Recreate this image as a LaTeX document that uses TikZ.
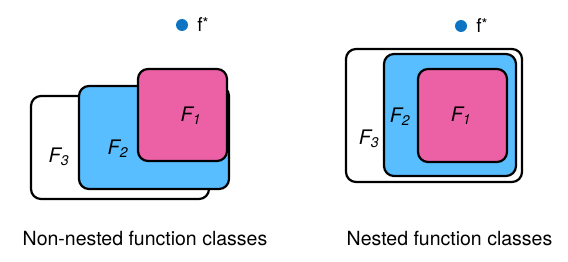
\documentclass[tikz,border=0pt]{standalone}
\usepackage{fontspec}
\setmainfont{TeX Gyre Heros}
\usepackage{tikz}
\usetikzlibrary{positioning}
\definecolor{setblue}{RGB}{89,190,255}
\definecolor{setpink}{RGB}{236,96,166}
\definecolor{dotblue}{RGB}{12,116,194}
\newcommand{\optf}{f\raisebox{0.3ex}{\fontsize{15}{15}\selectfont *}}
\tikzset{
  setbox/.style={rectangle, draw=black, line width=2.2pt, rounded corners=10pt,
    inner sep=0pt},
  setlabel/.style={font=\fontsize{20}{23}\selectfont\itshape, inner sep=0pt},
  caption/.style={font=\fontsize{19.5}{23}\selectfont, inner sep=0pt, anchor=base},
  optdot/.style={circle, fill=dotblue, minimum size=12pt, inner sep=0pt},
  optlabel/.style={font=\fontsize{19}{22}\selectfont, inner sep=0pt, anchor=west}
}
\begin{document}
\begin{tikzpicture}[x=1pt, y=-1pt]
  \useasboundingbox (0,0) rectangle (568,262);
  % non-nested classes
  \node[setbox, fill=white, minimum width=178pt, minimum height=103pt] (lthree) at (120,147.5) {};
  \node[setbox, fill=setblue, minimum width=150pt, minimum height=103pt] (ltwo) at (154,137.5) {};
  \node[setbox, fill=setpink, minimum width=89pt, minimum height=92pt] (lone) at (182.5,115) {};
  \node[setlabel] (lthreetxt) at (59,157) {F\textsubscript{3}};
  \node[setlabel] (ltwotxt) at (118,149) {F\textsubscript{2}};
  \node[setlabel] (lonetxt) at (191,116) {F\textsubscript{1}};
  \node[optdot] (lstar) at (182,25) {};
  \node[optlabel, right=9pt of lstar] (lstartxt) {\optf};
  \node[caption] (lcap) at (145,245) {Non-nested function classes};

  % nested classes
  \node[setbox, fill=white, minimum width=176pt, minimum height=133pt] (rthree) at (434,115.5) {};
  \node[setbox, fill=setblue, minimum width=132pt, minimum height=122pt] (rtwo) at (450,115) {};
  \node[setbox, fill=setpink, minimum width=89pt, minimum height=93pt] (rone) at (462.5,115.5) {};
  \node[setlabel] (rthreetxt) at (369,139) {F\textsubscript{3}};
  \node[setlabel] (rtwotxt) at (400,117) {F\textsubscript{2}};
  \node[setlabel] (ronetxt) at (461,116) {F\textsubscript{1}};
  \node[optdot] (rstar) at (461,26) {};
  \node[optlabel, right=9pt of rstar] (rstartxt) {\optf};
  \node[caption] (rcap) at (449.5,245) {Nested function classes};
\end{tikzpicture}
\end{document}
